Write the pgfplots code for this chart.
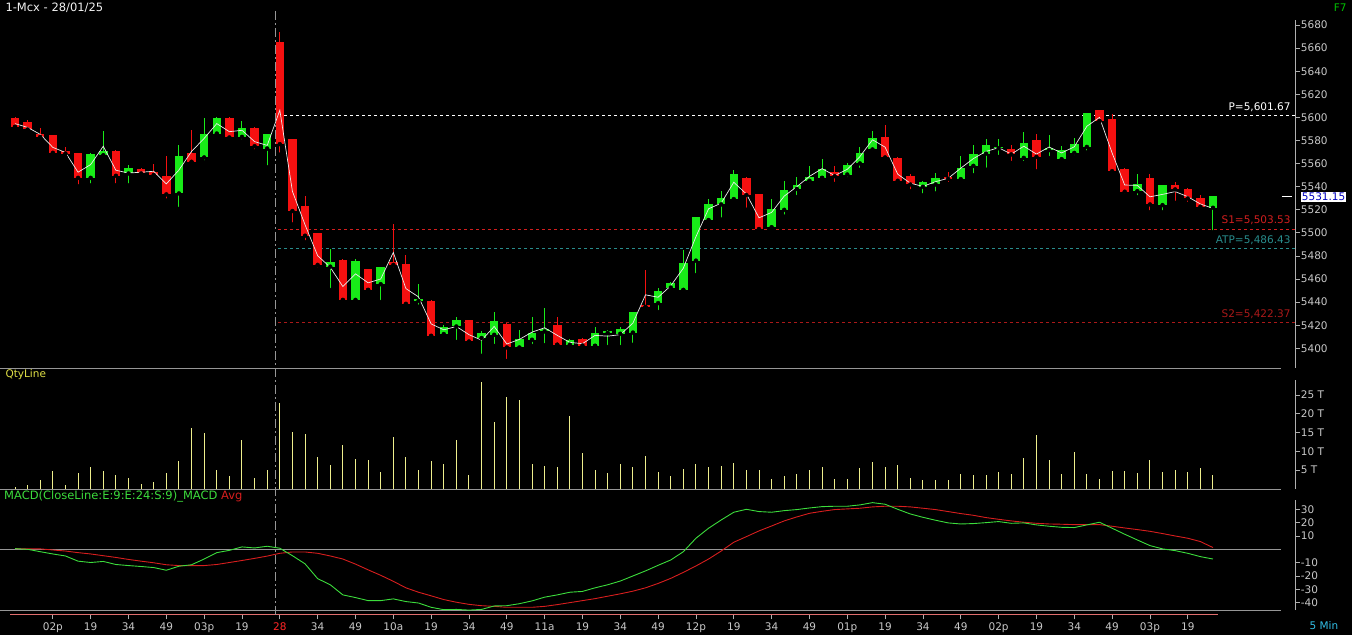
\documentclass[border=0pt]{standalone}
\usepackage{fontspec}
\setmainfont{DejaVu Sans}
\usepackage{pgfplots}
\usepackage{pgfplotstable}
\pgfplotsset{compat=1.18}

\definecolor{upg}{RGB}{24,235,24}
\definecolor{dnr}{RGB}{245,16,16}
\definecolor{axgray}{RGB}{175,175,175}
\definecolor{labgray}{RGB}{200,200,200}
\definecolor{sepgray}{RGB}{150,150,150}
\definecolor{volyel}{RGB}{238,238,140}
\definecolor{mgreen}{RGB}{60,220,60}
\definecolor{mred}{RGB}{215,30,30}
\definecolor{s1red}{RGB}{210,30,30}
\definecolor{s2red}{RGB}{170,25,25}
\definecolor{atpteal}{RGB}{40,140,140}
\definecolor{salmon}{RGB}{225,110,110}
\definecolor{daygray}{RGB}{150,150,150}

% i = candle, o h l c = price, v = qty (T), m = MACD, a = Avg
\pgfplotstableread{
i o h l c v m a
0 5599.4 5600.5 5591.5 5592.2 0.4 0.5 0.5
1 5595.6 5597.9 5586.4 5589.9 1.1 0 0.3
2 5585.0 5590.7 5582.0 5583.5 2.4 -1.8 0.3
3 5584.1 5585.0 5567.7 5569.7 4.8 -3.5 -0.5
4 5570.5 5574.3 5565.7 5569.1 1.1 -5 -1.3
5 5568.5 5569.5 5540.3 5548.0 4.2 -8.9 -2.5
6 5548.0 5569.0 5541.0 5567.6 5.8 -9.9 -3.5
7 5567.6 5588.4 5566.2 5570.5 4.8 -9.1 -4.8
8 5570.5 5572.0 5541.1 5549.8 3.7 -11.4 -6.1
9 5551.8 5559.0 5541.0 5555.5 2.9 -12.2 -7.6
10 5555.2 5556.0 5549.8 5551.8 1.3 -12.9 -8.9
11 5552.4 5559.9 5549.8 5550.4 1.9 -13.7 -10.1
12 5548.4 5566.2 5527.9 5533.7 4.2 -15.7 -11.6
13 5534.5 5576.3 5520.7 5566.2 7.4 -12.7 -12.2
14 5568.5 5589.3 5560.8 5561.9 16.2 -11.6 -12.2
15 5565.7 5599.4 5561.0 5585.5 14.9 -7.3 -12.2
16 5586.4 5599.9 5585.0 5599.4 5.0 -2.5 -11.4
17 5599.4 5600.0 5580.0 5583.0 3.5 -0.8 -9.9
18 5583.5 5597.0 5579.2 5590.7 13.0 1.8 -8.4
19 5590.7 5591.5 5570.5 5575.4 2.9 1.0 -6.8
20 5573.4 5585.5 5556.7 5585.0 5.0 2.3 -5.1
21 5664.7 5674.2 5567.7 5577.2 22.8 0.8 -3
22 5580.6 5581.5 5507.2 5519.3 15.1 -4.8 -2
23 5522.5 5531.6 5491.9 5497.9 14.6 -10.9 -2
24 5499.4 5500.0 5468.3 5472.6 8.5 -22 -3
25 5471.1 5485.6 5450.4 5474.6 6.4 -26.6 -5
26 5476.0 5477.0 5441.5 5442.3 11.7 -34.2 -7.3
27 5442.3 5477.5 5440.9 5475.2 8.0 -36.2 -11.1
28 5468.3 5469.0 5450.4 5451.0 7.7 -38.5 -15.4
29 5455.9 5470.5 5440.0 5469.7 4.5 -38.5 -19.5
30 5474.0 5508.0 5468.3 5472.6 13.8 -37.2 -24
31 5472.6 5480.4 5436.0 5438.9 8.5 -39.2 -28.9
32 5441.5 5455.3 5436.0 5442.5 5.0 -40.3 -32.2
33 5440.9 5442.0 5410.5 5411.2 7.4 -43.5 -34.9
34 5412.7 5420.3 5410.0 5417.9 6.6 -45.3 -37.7
35 5419.3 5427.4 5405.4 5424.2 13.0 -45.1 -39.7
36 5424.2 5424.5 5405.0 5406.3 3.7 -45.6 -41.3
37 5409.3 5415.0 5393.4 5412.7 28.4 -45.1 -42.3
38 5412.1 5431.7 5402.0 5423.1 17.8 -42.5 -42.8
39 5420.7 5421.5 5389.0 5401.1 24.4 -42.3 -43.5
40 5401.1 5415.5 5400.0 5407.8 23.6 -40.8 -43.5
41 5407.8 5427.0 5402.0 5413.0 6.6 -38.7 -43.5
42 5415.0 5434.6 5402.6 5416.5 6.1 -35.9 -42.8
43 5419.9 5427.4 5403.0 5403.5 5.8 -34.2 -41.5
44 5403.5 5407.8 5401.0 5406.9 19.4 -32.2 -40
45 5407.8 5408.5 5401.0 5402.8 9.6 -31.6 -38.5
46 5402.6 5418.7 5402.0 5413.0 5.0 -28.9 -37
47 5413.7 5416.0 5401.0 5414.4 4.2 -26.6 -35.2
48 5413.0 5418.5 5401.0 5416.4 6.6 -23.8 -33.4
49 5414.0 5431.5 5403.0 5431.0 5.8 -20 -31.4
50 5437.0 5467.7 5435.5 5436.2 8.8 -16.2 -28.9
51 5439.5 5452.5 5431.4 5449.0 4.5 -12 -25.6
52 5453.0 5457.5 5449.0 5456.2 3.5 -8 -21.8
53 5451.0 5484.7 5450.0 5473.5 5.3 -1.8 -17.3
54 5476.3 5514.0 5463.4 5513.0 6.6 8.3 -12.5
55 5511.5 5529.6 5508.0 5525.0 5.8 15.8 -7.3
56 5525.0 5536.0 5511.5 5529.6 6.1 22 -1.3
57 5529.6 5554.5 5527.0 5550.4 6.9 27.8 5.3
58 5547.5 5548.0 5520.0 5533.1 5.0 30 9.5
59 5533.1 5534.0 5501.4 5503.7 5.0 28.3 13.8
60 5505.3 5529.6 5503.5 5520.3 2.7 27.8 17.5
61 5520.3 5545.2 5514.0 5536.5 3.5 29 21.3
62 5538.4 5548.0 5531.0 5541.1 4.0 29.8 24.3
63 5545.5 5557.5 5541.5 5548.0 5.0 31 27
64 5548.0 5564.0 5547.5 5555.3 5.8 32 28.5
65 5552.7 5557.5 5542.3 5549.5 2.7 32.3 29.8
66 5550.9 5560.5 5546.5 5558.0 2.7 32.3 30.3
67 5560.5 5574.5 5554.5 5569.1 5.6 33.3 30.8
68 5572.6 5588.4 5571.5 5582.1 7.2 35 31.8
69 5583.0 5593.6 5563.3 5565.7 5.8 33.8 32.3
70 5564.8 5565.5 5541.7 5545.5 6.4 30 32.3
71 5548.4 5551.0 5536.0 5542.3 2.9 26.5 31.8
72 5540.3 5544.5 5532.5 5543.7 2.4 24 30.8
73 5542.3 5551.5 5534.0 5547.5 2.4 21.8 29.8
74 5547.8 5552.4 5542.3 5547.2 2.4 19.8 28.3
75 5546.9 5566.8 5545.5 5556.1 4.0 19 26.8
76 5558.4 5575.7 5549.8 5567.6 3.7 19.3 25.5
77 5569.0 5581.2 5554.7 5576.0 3.7 20 23.8
78 5573.7 5581.5 5565.7 5574.3 4.5 20.8 22.5
79 5572.6 5576.0 5560.5 5568.3 4.0 19.5 21.3
80 5565.3 5587.3 5560.5 5577.2 8.2 19.8 20.3
81 5579.8 5585.5 5553.2 5566.2 14.3 18.3 19.5
82 5572.0 5585.0 5564.8 5573.5 7.7 17.3 19
83 5564.2 5575.0 5561.5 5571.0 4.0 16.5 18.8
84 5569.6 5582.0 5565.5 5576.3 9.8 16.3 18.5
85 5574.8 5604.0 5569.6 5603.7 4.0 18.3 18.5
86 5605.7 5606.5 5596.5 5597.3 2.7 20.3 18.5
87 5597.9 5603.0 5551.0 5553.8 4.8 15.8 17.3
88 5555.3 5556.0 5532.2 5536.0 4.8 11.3 16
89 5536.5 5551.0 5530.8 5541.7 4.2 7 14.8
90 5547.5 5551.0 5517.8 5525.0 7.7 2.8 13.5
91 5524.4 5541.5 5517.8 5540.9 4.5 0.3 11.8
92 5540.9 5543.7 5525.9 5538.0 5.0 -1 10
93 5537.4 5539.0 5525.0 5530.2 4.5 -3 8.3
94 5529.6 5532.5 5520.0 5523.0 5.6 -5.5 5.8
95 5522.1 5532.2 5500.5 5531.2 3.7 -7.3 1.3
}\candles

\pgfplotsset{
  pane/.style={scale only axis, width=1295.7pt, xmin=-1.19, xmax=101.56,
    anchor=south west, clip=false,
    axis x line=none, axis y line*=right,
    y axis line style={draw=axgray, line width=0.8pt},
    tick align=outside, major tick length=4pt,
    ytick style={draw=axgray, line width=0.8pt},
    yticklabel style={text=labgray, inner sep=1pt},
    /pgf/number format/assume math mode=true,
    /pgf/number format/1000 sep={}},
  wick/.style={only marks, mark=none,
    error bars/.cd, y dir=plus, y explicit, error mark=none,
    error bar style={draw=#1, line width=1pt}},
  body/.style={only marks, mark=none,
    error bars/.cd, y dir=plus, y explicit, error mark=none,
    error bar style={draw=#1, line width=8.5pt}},
}

\begin{document}
\begin{tikzpicture}[font=\fontsize{10.5}{12}\selectfont]
\fill[black] (0pt,0pt) rectangle (1352pt,635pt);

% price pane
\begin{axis}[pane, at={(0pt,267pt)}, height=348pt,
  ymin=5382.93, ymax=5684.33, ytick={5400,5420,...,5680}]
\draw[white, dash pattern=on 3pt off 3pt] (axis cs:20.86,5601.67) -- (axis cs:101.5,5601.67);
\draw[s1red, dash pattern=on 3pt off 3pt] (axis cs:20.86,5503.53) -- (axis cs:101.5,5503.53);
\draw[atpteal, dash pattern=on 3pt off 3pt] (axis cs:20.86,5486.43) -- (axis cs:101.5,5486.43);
\draw[s2red, dash pattern=on 3pt off 3pt] (axis cs:20.86,5422.37) -- (axis cs:101.5,5422.37);
\addplot[wick=upg] table[x=i,
  y expr={\thisrow{c}>=\thisrow{o} ? \thisrow{l} : nan},
  y error plus expr={\thisrow{h}-\thisrow{l}}] {\candles};
\addplot[wick=dnr] table[x=i,
  y expr={\thisrow{c}<\thisrow{o} ? \thisrow{l} : nan},
  y error plus expr={\thisrow{h}-\thisrow{l}}] {\candles};
\addplot[body=upg] table[x=i,
  y expr={\thisrow{c}>=\thisrow{o} ? \thisrow{o}-0.4 : nan},
  y error plus expr={\thisrow{c}-\thisrow{o}+0.8}] {\candles};
\addplot[body=dnr] table[x=i,
  y expr={\thisrow{c}<\thisrow{o} ? \thisrow{c}-0.4 : nan},
  y error plus expr={\thisrow{o}-\thisrow{c}+0.8}] {\candles};
\addplot[white!85!gray, line width=0.7pt] table[x=i,
  y expr={(\thisrow{h}+\thisrow{l}+\thisrow{c})/3}] {\candles};
\node[anchor=base east, text=white] at (axis cs:101.43,5606.2) {P=5,601.67};
\node[anchor=base east, text=s1red] at (axis cs:101.43,5508.1) {S1=5,503.53};
\node[anchor=base east, text=atpteal] at (axis cs:101.43,5491.0) {ATP=5,486.43};
\node[anchor=base east, text=s2red] at (axis cs:101.43,5426.9) {S2=5,422.37};
\draw[white, line width=0.9pt] (axis cs:100.47,5531.15) -- (axis cs:101.27,5531.15);
\node[anchor=west, fill=white, text=blue!75!black, inner sep=1pt] at (axis cs:101.56,5531.15) [xshift=5pt] {5531.15};
\draw[sepgray] (rel axis cs:0,0) -- (rel axis cs:0.9887,0);
\end{axis}

% quantity pane
\begin{axis}[pane, at={(0pt,146pt)}, height=109pt, ymin=0, ymax=28.99,
  ytick={5,10,15,20,25}, yticklabels={5 T,10 T,15 T,20 T,25 T}]
\addplot[ycomb, draw=volyel, line width=1pt] table[x=i, y=v] {\candles};
\draw[sepgray] (rel axis cs:0,0) -- (rel axis cs:0.9887,0);
\end{axis}

% MACD pane
\begin{axis}[pane, at={(0pt,25pt)}, height=110pt, ymin=-45.53, ymax=36.98,
  ytick={-40,-30,-20,-10,10,20,30}]
\draw[sepgray] (axis cs:-1.19,0) -- (axis cs:100.4,0);
\draw[sepgray] (rel axis cs:0,0) -- (rel axis cs:0.9887,0);
\addplot[mred, line width=0.9pt] table[x=i, y=a] {\candles};
\addplot[mgreen, line width=0.9pt] table[x=i, y=m] {\candles};
\end{axis}

% time axis
\begin{axis}[scale only axis, width=1295.7pt, height=5pt, xmin=-1.19, xmax=101.56,
  ymin=0, ymax=1, at={(0pt,15.7pt)}, anchor=south west, clip=false,
  axis y line=none, axis x line*=bottom, x axis line style={draw=none},
  tick align=inside, major tick length=5pt, xtick style={draw=axgray, line width=0.8pt},
  xtick={3,6,...,93},
  xticklabels={02p,19,34,49,03p,19,{\color{red!85!white}28},34,49,10a,19,34,49,11a,19,34,49,12p,19,34,49,01p,19,34,49,02p,19,34,49,03p,19},
  xticklabel style={text=labgray, inner sep=0pt, yshift=-3pt}]
\draw[salmon, line width=0.9pt] (axis cs:-0.36,1) -- (axis cs:95.4,1);
\end{axis}

\draw[daygray, dash pattern=on 9pt off 3pt on 2pt off 3pt] (275pt,624pt) -- (275pt,20pt);
\node[anchor=west, text=white!90!gray, font=\fontsize{11.5}{13}\selectfont] at (2pt,627pt) {1-Mcx - 28/01/25};
\node[anchor=east, text=green!75!black] at (1350pt,627pt) {F7};
\node[anchor=west, text={rgb,255:red,225;green,225;blue,70}] at (2pt,260pt) {QtyLine};
\node[anchor=west, inner sep=2pt, font=\fontsize{11.5}{13}\selectfont] at (2pt,139pt) {\textcolor{mgreen}{MACD(CloseLine:E:9:E:24:S:9)\_MACD} \textcolor{mred}{Avg}};
\node[anchor=west, text={rgb,255:red,50;green,190;blue,230}] at (1306pt,9pt) {5 Min};

\pgfresetboundingbox
\useasboundingbox (0pt,0pt) rectangle (1352pt,635pt);
\end{tikzpicture}
\end{document}
